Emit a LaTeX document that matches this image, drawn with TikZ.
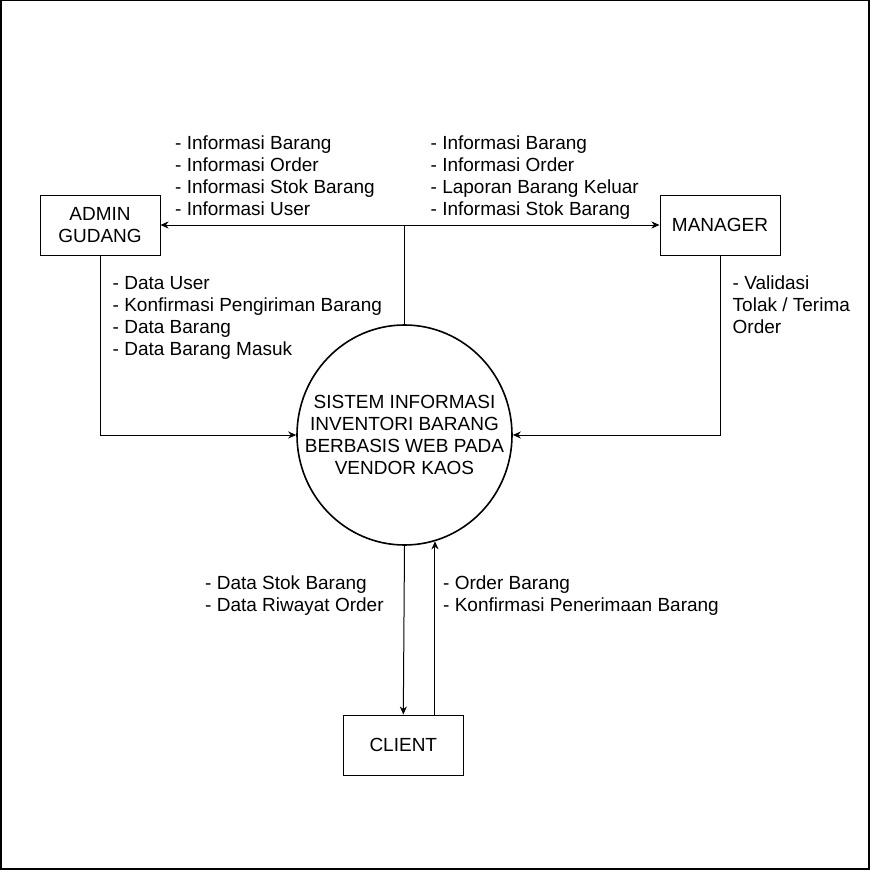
\documentclass[tikz,border=0pt]{standalone}
\usepackage{fontspec}
\setmainfont{Liberation Sans}
\usetikzlibrary{arrows.meta,shapes.geometric,calc}
\begin{document}
\begin{tikzpicture}[x=1pt,y=-1pt,
  every node/.style={font=\fontsize{19}{22}\selectfont},
  entity/.style={draw,line width=1pt,rectangle,minimum width=120pt,minimum height=60pt,inner sep=0pt,align=center},
  proc/.style={draw,line width=1.6pt,ellipse,minimum width=215pt,minimum height=220pt,inner sep=0pt},
  lbl/.style={anchor=north west,inner sep=0pt,align=left},
  flow/.style={line width=1pt,-{Stealth[length=8pt,width=7pt,inset=2.5pt]}}]
\useasboundingbox (0,0) rectangle (872,872);
\draw[line width=1.5pt] (0.75,0.75) rectangle (869,869);

\node[entity] (admin) at (100,225) {ADMIN\\GUDANG};
\node[entity] (manager) at (720,225) {MANAGER};
\node[entity] (client) at (403.3,745) {CLIENT};
\node[proc] (sys) at (404.5,435) {};
\node[align=center,inner sep=0pt] (systext) at (sys.center) {SISTEM INFORMASI\\INVENTORI BARANG\\BERBASIS WEB PADA\\VENDOR KAOS};

\draw[flow] (sys.north) |- (admin.east);
\draw[flow] (sys.north) |- (manager.west);
\draw[flow] (admin.south) |- (sys.west);
\draw[flow] (manager.south) |- (sys.east);
\draw[flow] (sys.south) -- (client.north);
\coordinate (upend) at (sys.-74.6);
\draw[flow] (upend |- client.north) -- (upend);

\node[lbl] (l1) at (175,134) {\rule{0pt}{15pt}- Informasi Barang\\- Informasi Order\\- Informasi Stok Barang\\- Informasi User};
\node[lbl] (l2) at (430.5,134) {\rule{0pt}{15pt}- Informasi Barang\\- Informasi Order\\- Laporan Barang Keluar\\- Informasi Stok Barang};
\node[lbl] (l3) at (112.5,274.7) {\rule{0pt}{15pt}- Data User\\- Konfirmasi Pengiriman Barang\\- Data Barang\\- Data Barang Masuk};
\node[lbl] (l4) at (732.5,274.7) {\rule{0pt}{15pt}- Validasi\\Tolak / Terima\\Order};
\node[lbl] (l5) at (205,574.7) {\rule{0pt}{15pt}- Data Stok Barang\\- Data Riwayat Order};
\node[lbl] (l6) at (443,574.7) {\rule{0pt}{15pt}- Order Barang\\- Konfirmasi Penerimaan Barang};
\end{tikzpicture}
\end{document}
